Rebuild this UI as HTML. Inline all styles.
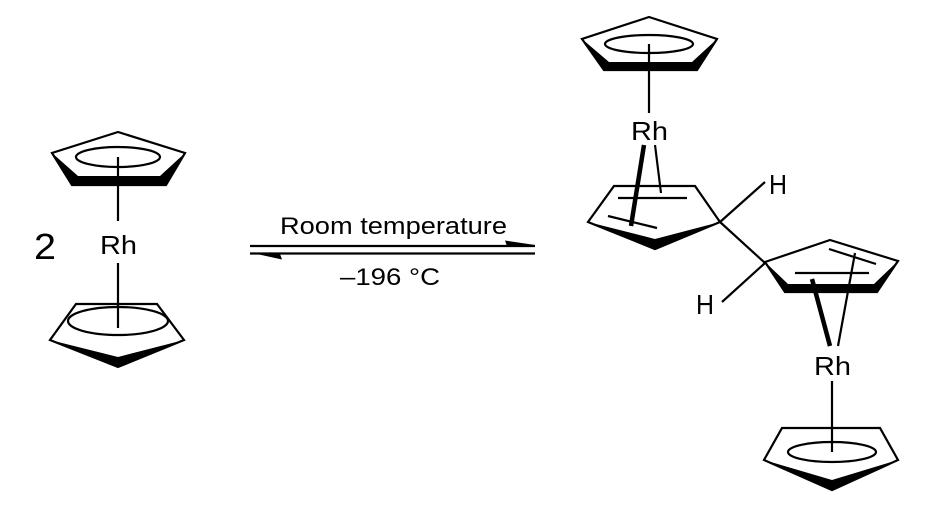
<!DOCTYPE html>
<html><head><meta charset="utf-8"><style>
html,body{margin:0;padding:0;background:#fff;}
svg{display:block;}
text{font-family:"Liberation Sans",Arial,sans-serif;fill:#000;}
</style></head><body>
<svg width="940" height="512" viewBox="0 0 940 512" xmlns="http://www.w3.org/2000/svg">
<g stroke="#000" stroke-width="2.2" fill="none" stroke-linejoin="miter">
<polygon points="118,132 52,153 72,185 166,185 185,153"/>
<polygon points="52,153 72,185 166,185 185,153 160,176 78,176" fill="#000" stroke="none"/>
<ellipse cx="118" cy="157" rx="42" ry="10"/>
<line x1="118" y1="157" x2="118" y2="221"/>
<line x1="118" y1="263" x2="118" y2="328"/>
<polygon points="76,304 157,304 184,340 118,367 50,340"/>
<polygon points="50,340 118,367 184,340 118,357" fill="#000" stroke="none"/>
<ellipse cx="118" cy="321" rx="50" ry="14"/>

<line x1="250" y1="246" x2="535" y2="246"/>
<polygon points="505,240.5 535,245 535,247 507,246" fill="#000" stroke="none"/>
<line x1="250" y1="253.5" x2="535" y2="253.5"/>
<polygon points="250,252.5 282,259.5 280,254 250,254.5" fill="#000" stroke="none"/>

<polygon points="649,17 582,39 604,70 697,70 717,39"/>
<polygon points="582,39 604,70 697,70 717,39 692,62 609,62" fill="#000" stroke="none"/>
<ellipse cx="649" cy="44" rx="44" ry="9"/>
<line x1="649" y1="44" x2="649" y2="113"/>

<line x1="644" y1="145" x2="631" y2="226" stroke-width="4.5"/>
<line x1="655" y1="145" x2="661" y2="193"/>
<polygon points="614,186 695,186 720,222 655,249 588,222"/>
<polygon points="588,222 655,249 720,222 655,239" fill="#000" stroke="none"/>
<line x1="618" y1="198" x2="687" y2="198"/>
<line x1="608" y1="216" x2="657" y2="228"/>
<line x1="720" y1="222" x2="765" y2="182"/>
<line x1="720" y1="222" x2="765" y2="263"/>
<line x1="765" y1="263" x2="722" y2="302"/>

<polygon points="765,262 830,240 898,261 877,292 785,292"/>
<polygon points="765,262 785,292 877,292 898,261 874,284 788,284" fill="#000" stroke="none"/>
<line x1="829" y1="249" x2="876" y2="264"/>
<line x1="795" y1="273" x2="869" y2="273"/>
<line x1="812" y1="279" x2="830" y2="346" stroke-width="4.5"/>
<line x1="855" y1="253" x2="838" y2="346"/>

<line x1="832" y1="381" x2="832" y2="452"/>
<polygon points="782,428 880,428 898,460 832,490 764,460"/>
<polygon points="764,460 832,490 898,460 832,480" fill="#000" stroke="none"/>
<ellipse cx="832" cy="452" rx="44" ry="10"/>
</g>
<g font-size="26">
<text x="100" y="254" textLength="37" lengthAdjust="spacingAndGlyphs">Rh</text>
<text x="631" y="140" textLength="37" lengthAdjust="spacingAndGlyphs">Rh</text>
<text x="814" y="375" textLength="37" lengthAdjust="spacingAndGlyphs">Rh</text>
<text x="769" y="194" font-size="28" textLength="18" lengthAdjust="spacingAndGlyphs">H</text>
<text x="696" y="314" font-size="28" textLength="18" lengthAdjust="spacingAndGlyphs">H</text>
</g>
<text x="34" y="259" font-size="36" textLength="22" lengthAdjust="spacingAndGlyphs">2</text>
<text x="280" y="234" font-size="24" textLength="227" lengthAdjust="spacingAndGlyphs">Room temperature</text>
<text x="340" y="285" font-size="24" textLength="100" lengthAdjust="spacingAndGlyphs">–196 °C</text>
</svg>
</body></html>
